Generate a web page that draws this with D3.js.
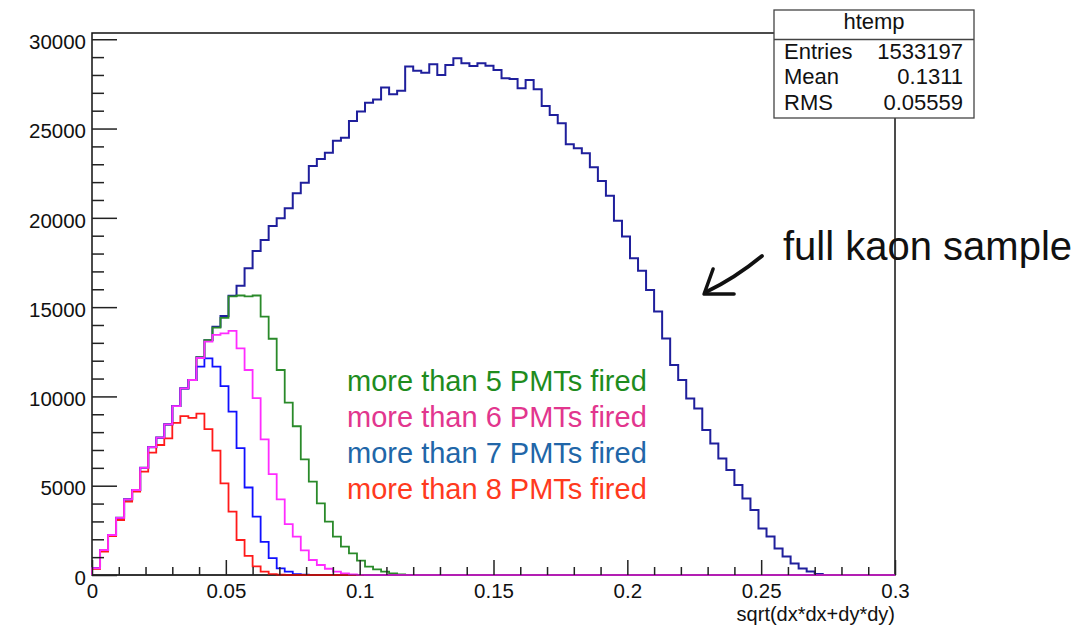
<!DOCTYPE html>
<html>
<head>
<meta charset="utf-8">
<script src="https://cdn.jsdelivr.net/npm/d3@7"></script>
<style>
  html, body { margin: 0; padding: 0; background: #fff; }
  svg { display: block; font-family: "Liberation Sans", Arial, Helvetica, sans-serif; }
</style>
</head>
<body>
<svg id="chart" width="1089" height="627"></svg>
<script>
// ---------------- data ----------------
const nBins = 100;
const xMin = 0, xMax = 0.3;

// full kaon sample (htemp)
const fullSample = [
  380, 1400, 2240, 3200, 4230, 4760, 6000, 7160, 7690, 8430,
  9460, 10450, 10920, 12190, 13150, 13900, 14500, 15640, 16200, 17170,
  18140, 18760, 19540, 19970, 20530, 21370, 21970, 22900, 23300, 23650,
  24320, 24490, 25420, 25950, 26450, 26620, 27300, 26920, 27120, 28470,
  28240, 28130, 28600, 28000, 28560, 28930, 28650, 28500, 28650, 28520,
  28280, 27810, 27780, 27250, 27720, 27200, 26260, 25760, 25290, 24120,
  23890, 23610, 22830, 22060, 21240, 19840, 18950, 17730, 17040, 15960,
  14750, 13250, 11760, 10920, 9890, 9330, 8120, 7370, 6530, 5880,
  5040, 4290, 3640, 2610, 2150, 1490, 1030, 650, 370, 190,
  50, 0, 0, 0, 0, 0, 0, 0, 0, 0
];
// more than 5 PMTs fired
const more5 = [
  380, 1400, 2240, 3200, 4230, 4760, 6000, 7160, 7690, 8430,
  9460, 10450, 10920, 12190, 13150, 13850, 14400, 15600, 15650, 15600,
  15650, 14470, 13230, 11480, 9650, 8330, 6480, 5230, 4010, 2990,
  2150, 1590, 1210, 800, 470, 320, 190, 90, 30, 10,
  0, 0, 0, 0, 0, 0, 0, 0, 0, 0,
  0, 0, 0, 0, 0, 0, 0, 0, 0, 0,
  0, 0, 0, 0, 0, 0, 0, 0, 0, 0,
  0, 0, 0, 0, 0, 0, 0, 0, 0, 0,
  0, 0, 0, 0, 0, 0, 0, 0, 0, 0,
  0, 0, 0, 0, 0, 0, 0, 0, 0, 0
];
// more than 6 PMTs fired
const more6 = [
  380, 1400, 2240, 3200, 4230, 4760, 6000, 7160, 7690, 8430,
  9460, 10450, 10920, 12150, 13070, 13450, 13530, 13670, 12690, 11480,
  9900, 7600, 5650, 4230, 2850, 2150, 1380, 840, 560, 350,
  190, 90, 35, 10, 0, 0, 0, 0, 0, 0,
  0, 0, 0, 0, 0, 0, 0, 0, 0, 0,
  0, 0, 0, 0, 0, 0, 0, 0, 0, 0,
  0, 0, 0, 0, 0, 0, 0, 0, 0, 0,
  0, 0, 0, 0, 0, 0, 0, 0, 0, 0,
  0, 0, 0, 0, 0, 0, 0, 0, 0, 0,
  0, 0, 0, 0, 0, 0, 0, 0, 0, 0
];
// more than 7 PMTs fired
const more7 = [
  380, 1400, 2240, 3200, 4230, 4760, 6000, 7160, 7690, 8430,
  9460, 10450, 10920, 11670, 12130, 11670, 10580, 9150, 7100, 4900,
  3270, 1850, 950, 373, 187, 50, 15, 0, 0, 0,
  0, 0, 0, 0, 0, 0, 0, 0, 0, 0,
  0, 0, 0, 0, 0, 0, 0, 0, 0, 0,
  0, 0, 0, 0, 0, 0, 0, 0, 0, 0,
  0, 0, 0, 0, 0, 0, 0, 0, 0, 0,
  0, 0, 0, 0, 0, 0, 0, 0, 0, 0,
  0, 0, 0, 0, 0, 0, 0, 0, 0, 0,
  0, 0, 0, 0, 0, 0, 0, 0, 0, 0
];
// more than 8 PMTs fired
const more8 = [
  340, 1305, 2184, 3080, 4105, 4665, 5785, 6850, 7280, 7655,
  8520, 8900, 8800, 9040, 8170, 6960, 5135, 3545, 1960, 1070,
  480, 187, 50, 15, 0, 0, 0, 0, 0, 0,
  0, 0, 0, 0, 0, 0, 0, 0, 0, 0,
  0, 0, 0, 0, 0, 0, 0, 0, 0, 0,
  0, 0, 0, 0, 0, 0, 0, 0, 0, 0,
  0, 0, 0, 0, 0, 0, 0, 0, 0, 0,
  0, 0, 0, 0, 0, 0, 0, 0, 0, 0,
  0, 0, 0, 0, 0, 0, 0, 0, 0, 0,
  0, 0, 0, 0, 0, 0, 0, 0, 0, 0
];

const xMajorTicks = [0, 0.05, 0.1, 0.15, 0.2, 0.25, 0.3];
const xTickLabels = ["0", "0.05", "0.1", "0.15", "0.2", "0.25", "0.3"];
const yMajorTicks = [0, 5000, 10000, 15000, 20000, 25000, 30000];
const yTickLabels = ["0", "5000", "10000", "15000", "20000", "25000", "30000"];

const legendLabels = ["more than 5 PMTs fired", "more than 6 PMTs fired",
                      "more than 7 PMTs fired", "more than 8 PMTs fired"];
const statsNames = ["Entries", "Mean", "RMS"];
const statsValues = ["1533197", "0.1311", "0.05559"];

// ---------------- layout & style ----------------
const L = 92, R = 895, T = 33, B = 575;
const yMax = 30350;
const svg = d3.select("#chart");

const x = d3.scaleLinear().domain([xMin, xMax]).range([L, R]);
const y = d3.scaleLinear().domain([0, yMax]).range([B, T]);

const binW = (xMax - xMin) / nBins;

// frame
svg.append("rect")
  .attr("x", L).attr("y", T).attr("width", R - L).attr("height", B - T)
  .attr("fill", "none").attr("stroke", "#111").attr("stroke-width", 1.5);

// histograms
function histPoints(vals) {
  const pts = [[xMin, 0]];
  vals.forEach((v, i) => pts.push([xMin + i * binW, v]));
  pts.push([xMax, vals[vals.length - 1]]);
  pts.push([xMax, 0]);
  return pts;
}
const stepLine = d3.line()
  .x(d => x(d[0])).y(d => y(d[1]))
  .curve(d3.curveStepAfter);

const series = [
  { vals: fullSample, color: "#1f1f9c", w: 2 },
  { vals: more5, color: "#2a8a2a", w: 1.8 },
  { vals: more7, color: "#1010ff", w: 1.8 },
  { vals: more8, color: "#ff1a1a", w: 1.8 },
  { vals: more6, color: "#ff2cff", w: 1.8 }
];
series.forEach(s => {
  svg.append("path")
    .attr("d", stepLine(histPoints(s.vals)))
    .attr("fill", "none")
    .attr("stroke", s.color)
    .attr("stroke-width", s.w)
    .attr("stroke-linejoin", "miter");
});

// bottom axis line overlay (darkens the zero-runs)
svg.append("line")
  .attr("x1", L).attr("x2", R).attr("y1", B).attr("y2", B)
  .attr("stroke", "#000").attr("stroke-opacity", 0.4).attr("stroke-width", 1.6);

// axes
const fontAxis = 20.5;
const xMinor = d3.range(0, 31).map(i => i / 100).filter(v => Math.abs(v * 20 - Math.round(v * 20)) > 1e-6);
const yMinor = d3.range(0, 31).map(i => i * 1000).filter(v => v % 5000 !== 0);

const gxMinor = svg.append("g").attr("transform", `translate(0,${B})`)
  .call(d3.axisBottom(x).tickValues(xMinor).tickSize(-8).tickFormat(""));
const gx = svg.append("g").attr("transform", `translate(0,${B})`)
  .call(d3.axisBottom(x).tickValues(xMajorTicks).tickSize(-15).tickPadding(8)
        .tickFormat((d, i) => xTickLabels[i]));
const gyMinor = svg.append("g").attr("transform", `translate(${L},0)`)
  .call(d3.axisLeft(y).tickValues(yMinor).tickSize(-12).tickFormat(""));
const gy = svg.append("g").attr("transform", `translate(${L},0)`)
  .call(d3.axisLeft(y).tickValues(yMajorTicks).tickSize(-25).tickPadding(6)
        .tickFormat((d, i) => yTickLabels[i]));

[gxMinor, gx, gyMinor, gy].forEach(g => {
  g.select(".domain").remove();
  g.selectAll(".tick line").attr("stroke", "#222").attr("stroke-width", 1.5);
  g.selectAll("text")
    .attr("font-family", "Liberation Sans, Arial, sans-serif")
    .attr("font-size", fontAxis).attr("fill", "#111");
});
gy.selectAll("text").attr("dy", "0.45em");

// x axis title
svg.append("text")
  .attr("x", R).attr("y", 621)
  .attr("text-anchor", "end")
  .attr("font-size", 20).attr("fill", "#111")
  .text("sqrt(dx*dx+dy*dy)");

// legend texts
const legendColors = ["#1e8c1e", "#e2368e", "#2166a8", "#ff3a1e"];
const legendBase = [391, 427, 463, 499];
legendLabels.forEach((t, i) => {
  svg.append("text")
    .attr("x", 347).attr("y", legendBase[i])
    .attr("font-size", 29).attr("fill", legendColors[i])
    .text(t);
});

// annotation: full kaon sample + arrow
svg.append("text")
  .attr("x", 783).attr("y", 260)
  .attr("font-size", 40).attr("fill", "#111")
  .text("full kaon sample");

const arrowTail = [0.2503, 17860];
const arrowTip = [0.2283, 15680];
const tx = x(arrowTip[0]), ty = y(arrowTip[1]);
const sx = x(arrowTail[0]), sy = y(arrowTail[1]);
const arrow = svg.append("g").attr("stroke", "#111").attr("fill", "none")
  .attr("stroke-linecap", "round").attr("stroke-linejoin", "round");
arrow.append("path")
  .attr("d", `M${sx},${sy} Q${(sx + tx) / 2 + 2},${(sy + ty) / 2 + 3} ${tx + 3},${ty - 3}`)
  .attr("stroke-width", 3.8);
arrow.append("path")
  .attr("d", `M${tx + 10},${ty - 26} L${tx + 1},${ty - 1} L${tx + 31},${ty - 1}`)
  .attr("stroke-width", 3.5);

// stats box
const bx = 774, by = 10, bw = 200, bh = 108;
svg.append("rect")
  .attr("x", bx).attr("y", by).attr("width", bw).attr("height", bh)
  .attr("fill", "#fff").attr("stroke", "#444").attr("stroke-width", 1.3);
svg.append("line")
  .attr("x1", bx).attr("x2", bx + bw).attr("y1", 39.5).attr("y2", 39.5)
  .attr("stroke", "#444").attr("stroke-width", 1.3);
svg.append("text")
  .attr("x", bx + bw / 2).attr("y", 29)
  .attr("text-anchor", "middle").attr("font-size", 22).attr("fill", "#111")
  .text("htemp");
const rowBase = [59, 84, 110];
statsNames.forEach((n, i) => {
  svg.append("text").attr("x", bx + 10).attr("y", rowBase[i])
    .attr("font-size", 22).attr("fill", "#111").text(n);
  svg.append("text").attr("x", bx + 189).attr("y", rowBase[i])
    .attr("text-anchor", "end")
    .attr("font-size", 22).attr("fill", "#111").text(statsValues[i]);
});
</script>
</body>
</html>
